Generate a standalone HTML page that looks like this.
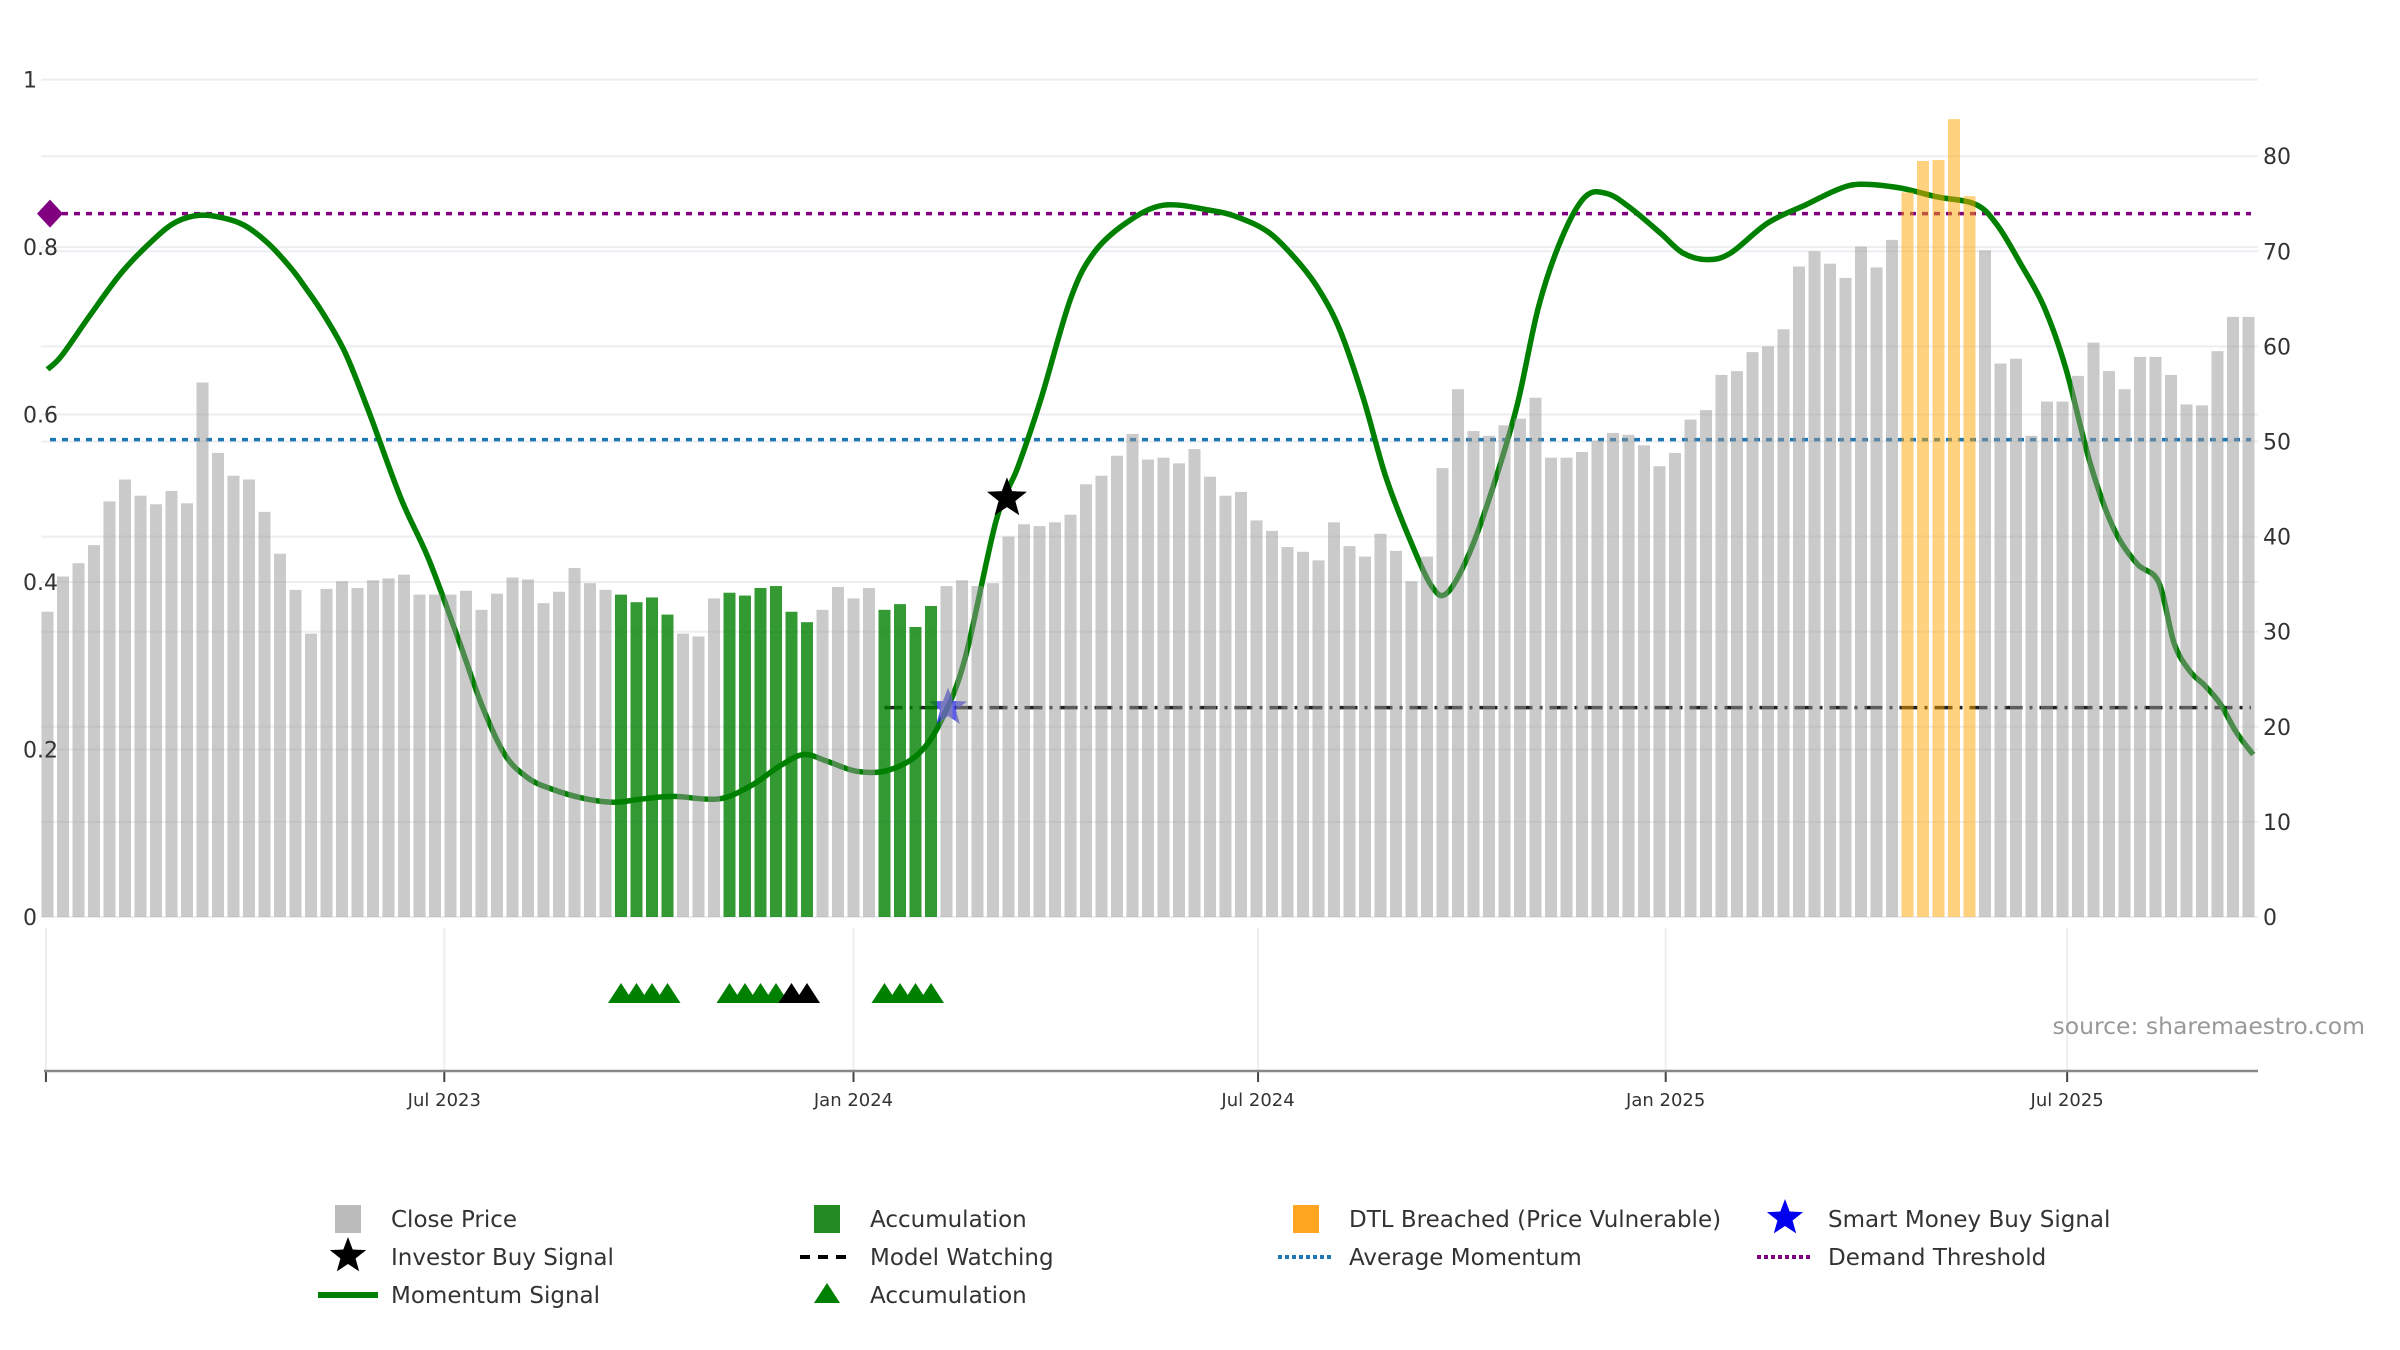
<!DOCTYPE html>
<html><head><meta charset="utf-8"><style>
html,body{margin:0;padding:0;background:#fff;}
svg{display:block;font-family:"DejaVu Sans","Liberation Sans",sans-serif;}
</style></head><body>
<svg id="chart" width="2400" height="1350" viewBox="0 0 2400 1350" xmlns="http://www.w3.org/2000/svg">
<g id="grid"></g>
<g id="lines"></g>
<g id="bars"></g>
<g id="axes"></g>
<g id="lower"></g>
<text x="2365" y="1034" text-anchor="end" font-size="23.5" fill="#999">source: sharemaestro.com</text>
<g id="legend"></g>
</svg>
<script>
const closePrices = [32.1,35.8,37.2,39.1,43.7,46.0,44.3,43.4,44.8,43.5,56.2,48.8,46.4,46.0,42.6,38.2,34.4,29.8,34.5,35.3,34.6,35.4,35.6,36.0,33.9,33.9,33.9,34.3,32.3,34.0,35.7,35.5,33.0,34.2,36.7,35.1,34.4,33.9,33.1,33.6,31.8,29.8,29.5,33.5,34.1,33.8,34.6,34.8,32.1,31.0,32.3,34.7,33.5,34.6,32.3,32.9,30.5,32.7,34.8,35.4,34.8,35.1,40.0,41.3,41.1,41.5,42.3,45.5,46.4,48.5,50.8,48.1,48.3,47.7,49.2,46.3,44.3,44.7,41.7,40.6,38.9,38.4,37.5,41.5,39.0,37.9,40.3,38.5,35.3,37.9,47.2,55.5,51.1,50.6,51.7,52.4,54.6,48.3,48.3,48.9,50.1,50.9,50.7,49.6,47.4,48.8,52.3,53.3,57.0,57.4,59.4,60.0,61.8,68.4,70.0,68.7,67.2,70.5,68.3,71.2,76.2,79.5,79.6,83.9,75.8,70.1,58.2,58.7,50.6,54.2,54.2,56.9,60.4,57.4,55.5,58.9,58.9,57.0,53.9,53.8,59.5,63.1,63.1];
const accumulationBars = [37,38,39,40,44,45,46,47,48,49,54,55,56,57];
const dtlBars = [120,121,122,123,124];
const momentumIdx = [0,0.9,2.8,4.8,6.9,8.3,9.8,11.3,12.7,14.2,15.7,16.7,17.8,19.2,20.7,22.8,24.6,26.6,28.0,29.5,31.0,32.5,34.5,36.5,38.4,40.4,43.3,45.4,47.3,48.8,50.3,52.2,54.2,56.2,57.7,59.2,61.2,62.6,64.1,66.0,67.5,69.6,72.0,75.0,76.9,78.9,80.8,82.1,83.4,84.9,86.3,87.8,89.3,90.3,91.7,93.2,94.8,96.2,97.7,99.2,100.6,102.1,104.1,105.5,107.1,108.6,111.0,113.5,115.4,116.9,119.4,121.9,124.4,125.8,127.3,128.8,130.2,131.8,133.3,134.8,136.2,137.2,138.2,139.2,140.2,141.2,142.3];
const momentumVal = [0.654,0.67,0.72,0.77,0.81,0.83,0.838,0.835,0.826,0.805,0.775,0.75,0.72,0.674,0.605,0.50,0.427,0.327,0.254,0.194,0.166,0.153,0.142,0.137,0.141,0.144,0.141,0.157,0.181,0.194,0.186,0.174,0.175,0.195,0.236,0.309,0.473,0.537,0.619,0.738,0.793,0.829,0.85,0.844,0.835,0.816,0.78,0.747,0.70,0.619,0.528,0.455,0.395,0.387,0.433,0.51,0.61,0.729,0.811,0.86,0.864,0.847,0.816,0.793,0.785,0.793,0.829,0.851,0.868,0.875,0.871,0.86,0.851,0.826,0.78,0.729,0.656,0.541,0.464,0.422,0.40,0.327,0.294,0.276,0.254,0.221,0.194];
const demandThreshold = 0.84;
const averageMomentum = 0.57;
const modelWatchingLevel = 0.25;
const modelWatchingStart = 54.0;
const investorBuyIdx = [61.9];
const investorBuyVal = [0.50];
const smartMoneyIdx = [58.1];
const smartMoneyVal = [0.25];
const triGreenIdx = [37,38,39,40,44,45,46,47,54,55,56,57];
const triBlackIdx = [48,49];
const leftTicks = [0,0.2,0.4,0.6,0.8,1];
const leftTickLabels = ["0","0.2","0.4","0.6","0.8","1"];
const rightTicks = [0,10,20,30,40,50,60,70,80];
const dateTickIdx = [-0.1,25.6,52.0,78.1,104.4,130.3];
const dateTickLabels = ["","Jul 2023","Jan 2024","Jul 2024","Jan 2025","Jul 2025"];

const NS="http://www.w3.org/2000/svg";
const X0=47.5, DX=15.5, YB=917;
const xs=i=>X0+i*DX;
const yR=v=>YB-v*9.51;
const yL=v=>YB-v*837.4;
function mk(tag,parent,attrs){const e=document.createElementNS(NS,tag);for(const k in attrs)e.setAttribute(k,attrs[k]);parent.appendChild(e);return e;}
const G=id=>document.getElementById(id);

const grid=G('grid');
leftTicks.forEach(v=>{const l=mk('line',grid,{x1:41,x2:2258,y1:yL(v),y2:yL(v),stroke:'#eceef2','stroke-width':2});

});
rightTicks.forEach(v=>{const l=mk('line',grid,{x1:41,x2:2258,y1:yR(v),y2:yR(v),stroke:'#eceef2','stroke-width':2});

});

const lines=G('lines');
let p=mk('line',lines,{x1:50,x2:2251,y1:yL(demandThreshold),y2:yL(demandThreshold),stroke:'#800080','stroke-width':3.5,'stroke-dasharray':'6 6'});


p=mk('path',lines,{d:`M${50-13},${yL(demandThreshold)} L50,${yL(demandThreshold)-14} L${50+13},${yL(demandThreshold)} L50,${yL(demandThreshold)+14}Z`,fill:'#800080'});


p=mk('line',lines,{x1:50,x2:2251,y1:yL(averageMomentum),y2:yL(averageMomentum),stroke:'#1f77b4','stroke-width':3.5,'stroke-dasharray':'6 6'});


p=mk('line',lines,{x1:xs(modelWatchingStart),x2:2251,y1:yL(modelWatchingLevel),y2:yL(modelWatchingLevel),stroke:'#222','stroke-width':3.5,'stroke-dasharray':'18 7 3 7'});


const pts=momentumIdx.map((i,k)=>[xs(i),yL(momentumVal[k])]);
let d=`M${pts[0][0]},${pts[0][1]}`;
for(let k=0;k<pts.length-1;k++){const p0=pts[Math.max(0,k-1)],p1=pts[k],p2=pts[k+1],p3=pts[Math.min(pts.length-1,k+2)];
d+=` C${p1[0]+(p2[0]-p0[0])/6},${p1[1]+(p2[1]-p0[1])/6} ${p2[0]-(p3[0]-p1[0])/6},${p2[1]-(p3[1]-p1[1])/6} ${p2[0]},${p2[1]}`;}
p=mk('path',lines,{d:d,fill:'none',stroke:'#008000','stroke-width':5.5,'stroke-linejoin':'round'});


function star(parent,cx,cy,r,fill){let s='';for(let k=0;k<10;k++){const a=-Math.PI/2+k*Math.PI/5,rr=k%2?r*0.42:r;s+=(k?'L':'M')+(cx+rr*Math.cos(a))+','+(cy+rr*Math.sin(a));}return mk('path',parent,{d:s+'Z',fill:fill});}
investorBuyIdx.forEach((i,k)=>{const s=star(lines,xs(i),yL(investorBuyVal[k]),21,'#000');

});
smartMoneyIdx.forEach((i,k)=>{const s=star(lines,xs(i),yL(smartMoneyVal[k]),20,'rgba(40,40,230,0.75)');

});

const bars=G('bars');
closePrices.forEach((v,i)=>{let fill='rgba(150,150,150,0.5)',nm='close-price-bar';
if(accumulationBars.includes(i)){fill='rgba(0,128,0,0.8)';nm='accumulation-bar';}
if(dtlBars.includes(i)){fill='rgba(255,165,0,0.5)';nm='dtl-breached-bar';}
const r=mk('rect',bars,{x:xs(i)-6,y:yR(v),width:12,height:YB-yR(v),fill:fill});

});

const axes=G('axes');
leftTicks.forEach((v,k)=>{const t=mk('text',axes,{x:23,y:yL(v)+8,'font-size':22,fill:'#333'});t.textContent=leftTickLabels[k];

});
rightTicks.forEach(v=>{const t=mk('text',axes,{x:2263,y:yR(v)+8,'font-size':22,fill:'#333'});t.textContent=String(v);

});

const lower=G('lower');
dateTickIdx.forEach((i,k)=>{const x=xs(i);
const g=mk('line',lower,{x1:x,x2:x,y1:928,y2:1071,stroke:'#eceef2','stroke-width':2});


const tk=mk('line',lower,{x1:x,x2:x,y1:1071,y2:1082,stroke:'#444','stroke-width':2});


const t=mk('text',lower,{x:x,y:1106,'font-size':18,fill:'#333','text-anchor':'middle'});t.textContent=dateTickLabels[k];

});
let ax=mk('line',lower,{x1:44,x2:2258,y1:1071,y2:1071,stroke:'#888','stroke-width':2.5});


function tri(parent,cx,cy,fill){return mk('path',parent,{d:`M${cx-13},${cy+10} L${cx},${cy-10} L${cx+13},${cy+10}Z`,fill:fill});}
triGreenIdx.forEach(i=>{const t=tri(lower,xs(i),993,'#008000');

});
triBlackIdx.forEach(i=>{const t=tri(lower,xs(i),993,'#000');

});

const lg=G('legend');
const rows=[1219,1257,1295], cols=[348,827,1306,1785];
function ltext(c,r,s,nm){const t=mk('text',lg,{x:cols[c]+43,y:rows[r]+8,'font-size':23,fill:'#333'});t.textContent=s;

}
let e;
e=mk('rect',lg,{x:cols[0]-13,y:rows[0]-14,width:26,height:28,fill:'#bbb'});
ltext(0,0,'Close Price','legend-close-price');
e=mk('rect',lg,{x:cols[1]-13,y:rows[0]-14,width:26,height:28,fill:'#228b22'});
ltext(1,0,'Accumulation','legend-accumulation');
e=mk('rect',lg,{x:cols[2]-13,y:rows[0]-14,width:26,height:28,fill:'#ffa520'});
ltext(2,0,'DTL Breached (Price Vulnerable)','legend-dtl-breached');
e=star(lg,cols[3],rows[0]-1,19,'#0000ee');
ltext(3,0,'Smart Money Buy Signal','legend-smart-money');
e=star(lg,cols[0],rows[1]-1,19,'#000');
ltext(0,1,'Investor Buy Signal','legend-investor-buy');
e=mk('line',lg,{x1:cols[1]-27,x2:cols[1]+27,y1:rows[1],y2:rows[1],stroke:'#000','stroke-width':4,'stroke-dasharray':'10 8'});
ltext(1,1,'Model Watching','legend-model-watching');
e=mk('line',lg,{x1:cols[2]-28,x2:cols[2]+27,y1:rows[1],y2:rows[1],stroke:'#1f77b4','stroke-width':4,'stroke-dasharray':'4 3'});
ltext(2,1,'Average Momentum','legend-average-momentum');
e=mk('line',lg,{x1:cols[3]-28,x2:cols[3]+27,y1:rows[1],y2:rows[1],stroke:'#800080','stroke-width':4,'stroke-dasharray':'4 3'});
ltext(3,1,'Demand Threshold','legend-demand-threshold');
e=mk('line',lg,{x1:cols[0]-30,x2:cols[0]+30,y1:rows[2],y2:rows[2],stroke:'#008000','stroke-width':6});
ltext(0,2,'Momentum Signal','legend-momentum-signal');
e=tri(lg,cols[1],rows[2]-2,'#008000');
ltext(1,2,'Accumulation','legend-accumulation-marker');
</script>
</body></html>
